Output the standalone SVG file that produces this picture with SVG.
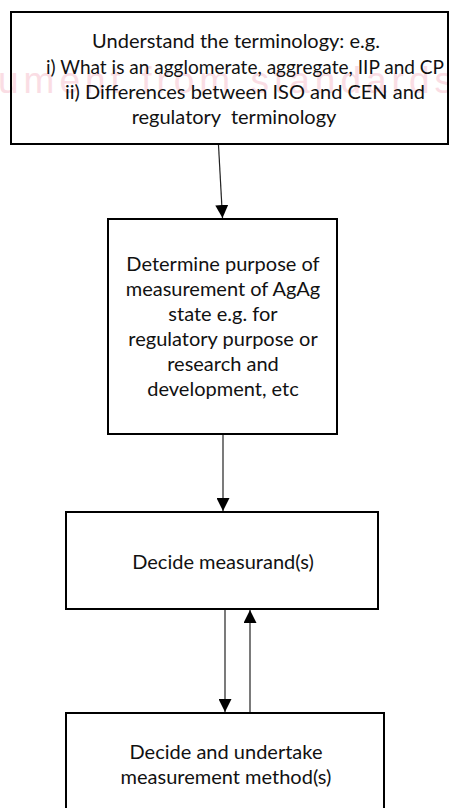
<svg xmlns="http://www.w3.org/2000/svg" width="449" height="808" viewBox="0 0 449 808">
<style>
.box{fill:none;stroke:#000;stroke-width:2}
.t{font-family:Lato,"Open Sans",sans-serif;font-size:20px;fill:#111;text-anchor:middle}
.c{stroke:#222;stroke-width:1.2;fill:none}
.wm{font-family:"Liberation Sans",Arial,sans-serif;font-size:37px;fill:#fadde4}
</style>
<defs>
<marker id="ah" markerUnits="userSpaceOnUse" markerWidth="13" markerHeight="13" viewBox="0 0 10 10" refX="10" refY="5" orient="auto">
<path d="M0,0 L10,5 L0,10 z" fill="#000"/>
</marker>
</defs>
<rect width="449" height="808" fill="#fff"/>
<text class="wm" x="-2" y="93" textLength="455" lengthAdjust="spacing">ument from standards</text>
<g id="n1">
<rect class="box" x="11" y="12" width="437" height="132"/>
<text class="t" x="236" y="48">Understand the terminology: e.g.</text>
<text class="t" x="245" y="74" textLength="398" lengthAdjust="spacingAndGlyphs">i) What is an agglomerate, aggregate, IIP and CP</text>
<text class="t" x="245" y="99">ii) Differences between ISO and CEN and</text>
<text class="t" x="234" y="124" xml:space="preserve">regulatory  terminology</text>
</g>
<g id="n2">
<rect class="box" x="108" y="219" width="229" height="215"/>
<text class="t" x="223" y="271">Determine purpose of</text>
<text class="t" x="223" y="296">measurement of AgAg</text>
<text class="t" x="223" y="321">state e.g. for</text>
<text class="t" x="223" y="346">regulatory purpose or</text>
<text class="t" x="223" y="371">research and</text>
<text class="t" x="223" y="396">development, etc</text>
</g>
<g id="n3">
<rect class="box" x="66" y="512" width="312" height="97"/>
<text class="t" x="223" y="569">Decide measurand(s)</text>
</g>
<g id="n4">
<rect class="box" x="66" y="713" width="318" height="110"/>
<text class="t" x="226" y="759">Decide and undertake</text>
<text class="t" x="226" y="784">measurement method(s)</text>
</g>
<g id="connectors">
<line class="c" x1="218.5" y1="145" x2="222.5" y2="218" marker-end="url(#ah)"/>
<line class="c" x1="223" y1="435" x2="223" y2="511" marker-end="url(#ah)"/>
<line class="c" x1="225" y1="610" x2="225" y2="712" marker-end="url(#ah)"/>
<line class="c" x1="250" y1="712" x2="250" y2="610" marker-end="url(#ah)"/>
</g>
</svg>
